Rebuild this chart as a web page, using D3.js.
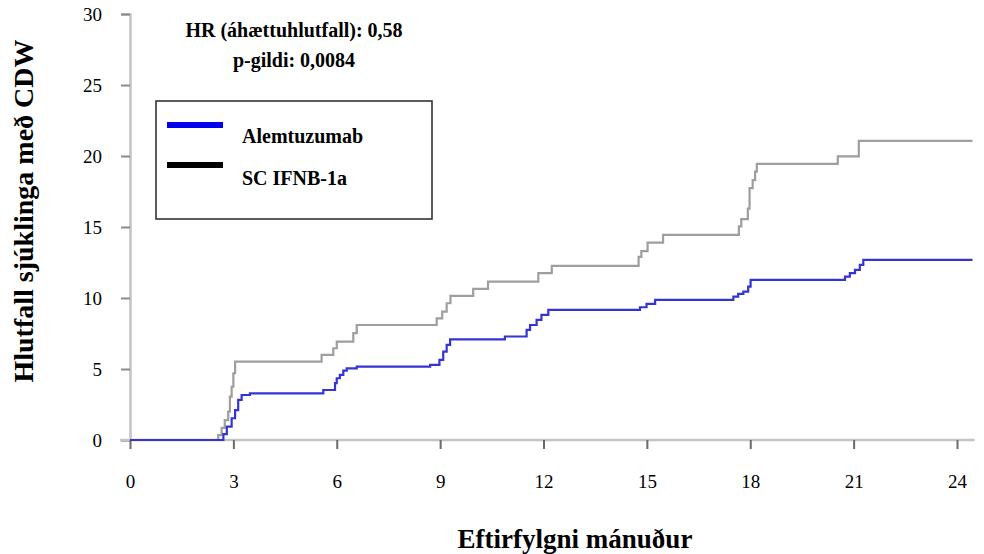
<!DOCTYPE html>
<html>
<head>
<meta charset="utf-8">
<script src="https://cdn.jsdelivr.net/npm/d3@7"></script>
<style>
  html, body { margin: 0; padding: 0; background: #fff; }
  svg { display: block; }
  text { font-family: "Liberation Serif", "Times New Roman", serif; fill: #000; }
</style>
</head>
<body>
<svg id="chart" width="984" height="554"></svg>
<script>
// ---- data ----
const xTicks = [0, 3, 6, 9, 12, 15, 18, 21, 24];
const yTicks = [0, 5, 10, 15, 20, 25, 30];
const seriesNames = ["Alemtuzumab", "SC IFNB-1a"];

const alemTimes  = [0, 2.71, 2.81, 2.95, 3.05, 3.14, 3.24, 3.48, 5.61, 5.95, 6.00, 6.09, 6.19, 6.29, 6.58,
                    8.71, 8.98, 9.09, 9.19, 9.29, 10.88, 11.51, 11.61, 11.80, 11.94, 12.14,
                    14.80, 14.99, 15.24, 17.51, 17.65, 17.80, 17.94, 18.01,
                    20.75, 20.89, 21.04, 21.18, 21.28, 24.45];
const alemValues = [0, 0.42, 0.94, 1.53, 2.11, 2.82, 3.17, 3.29, 3.52, 4.00, 4.35, 4.58, 4.88, 5.05, 5.17,
                    5.29, 5.64, 6.22, 6.70, 7.08, 7.29, 7.75, 8.10, 8.46, 8.81, 9.16,
                    9.35, 9.58, 9.87, 10.10, 10.29, 10.45, 10.80, 11.28,
                    11.50, 11.75, 11.98, 12.33, 12.69, 12.69];

const ifnTimes  = [0, 2.56, 2.66, 2.75, 2.85, 2.90, 2.95, 3.00, 3.05, 5.56, 5.90, 6.00, 6.48, 6.58,
                   8.90, 9.06, 9.19, 9.30, 9.96, 10.39, 11.85, 12.24,
                   14.76, 14.84, 15.02, 15.47, 17.67, 17.74, 17.93, 17.98, 18.07, 18.14, 18.19,
                   20.54, 21.15, 24.45];
const ifnValues = [0, 0.35, 0.85, 1.40, 2.00, 3.05, 3.75, 4.70, 5.52, 6.00, 6.46, 6.93, 7.52, 8.10,
                   8.57, 9.04, 9.63, 10.15, 10.64, 11.16, 11.75, 12.26,
                   12.90, 13.30, 13.90, 14.45, 15.04, 15.55, 16.30, 17.74, 18.30, 18.90, 19.45,
                   19.97, 21.07, 21.07];

const hrText = "HR (áhættuhlutfall): 0,58";
const pText = "p-gildi: 0,0084";
const xTitle = "Eftirfylgni mánuður";
const yTitle = "Hlutfall sjúklinga með CDW";

// ---- chart ----
const svg = d3.select("#chart");
const x = d3.scaleLinear().domain([0, 24]).range([130, 957]);
const y = d3.scaleLinear().domain([0, 30]).range([440, 14]);

// y axis
const yAxis = svg.append("g").attr("transform", "translate(130,0)")
  .call(d3.axisLeft(y).tickValues(yTicks).tickSize(9).tickPadding(19).tickFormat(d3.format("d")));
yAxis.select(".domain").attr("stroke", "#c4c4c4").attr("stroke-width", 2.5);
yAxis.selectAll(".tick line").attr("stroke", "#8a8a8a").attr("stroke-width", 2);
yAxis.selectAll(".tick text").style("font-size", "19px").style("font-family", "'Liberation Serif', serif").attr("fill", "#000");

// x axis
const xAxis = svg.append("g").attr("transform", "translate(0,440)")
  .call(d3.axisBottom(x).tickValues(xTicks).tickSize(9).tickPadding(26).tickFormat(d3.format("d")));
xAxis.select(".domain").attr("d", "M" + (x(0) - 10) + ",0H" + (x(24.45) + 2)).attr("stroke", "#c4c4c4").attr("stroke-width", 2.5);
xAxis.selectAll(".tick line").attr("stroke", "#6a6a6a").attr("stroke-width", 2);
xAxis.selectAll(".tick text").style("font-size", "19px").style("font-family", "'Liberation Serif', serif").attr("fill", "#000");

// curves
const line = d3.line().curve(d3.curveStepAfter).x(d => x(d[0])).y(d => y(d[1]));
const ifnData = ifnTimes.map((t, i) => [t, ifnValues[i]]);
const alemData = alemTimes.map((t, i) => [t, alemValues[i]]);

svg.append("path").datum(ifnData).attr("d", line)
  .attr("fill", "none").attr("stroke", "#9e9e9e").attr("stroke-width", 2.2);
svg.append("path").datum(alemData).attr("d", line)
  .attr("fill", "none").attr("stroke", "#3434d6").attr("stroke-width", 2.2);

// annotations
svg.append("text").attr("x", 294).attr("y", 37).attr("text-anchor", "middle")
  .style("font-size", "20px").style("font-weight", "bold").text(hrText);
svg.append("text").attr("x", 294).attr("y", 67).attr("text-anchor", "middle")
  .style("font-size", "20px").style("font-weight", "bold").text(pText);

// legend
const lg = svg.append("g");
lg.append("rect").attr("x", 156).attr("y", 101).attr("width", 276).attr("height", 118)
  .attr("fill", "#fff").attr("stroke", "#333").attr("stroke-width", 1.6);
const legendColors = ["#0000ee", "#000000"];
seriesNames.forEach((name, i) => {
  lg.append("line").attr("x1", 167).attr("x2", 223).attr("y1", 125 + i * 40).attr("y2", 125 + i * 40)
    .attr("stroke", legendColors[i]).attr("stroke-width", 6);
  lg.append("text").attr("x", 242).attr("y", 143 + i * 42)
    .style("font-size", "20px").style("font-weight", "bold").text(name);
});

// axis titles
svg.append("text").attr("x", 575).attr("y", 548).attr("text-anchor", "middle")
  .style("font-size", "27px").style("font-weight", "bold").text(xTitle);
svg.append("text").attr("transform", "translate(33,211) rotate(-90)").attr("text-anchor", "middle")
  .style("font-size", "28px").style("font-weight", "bold").text(yTitle);
</script>
</body>
</html>
